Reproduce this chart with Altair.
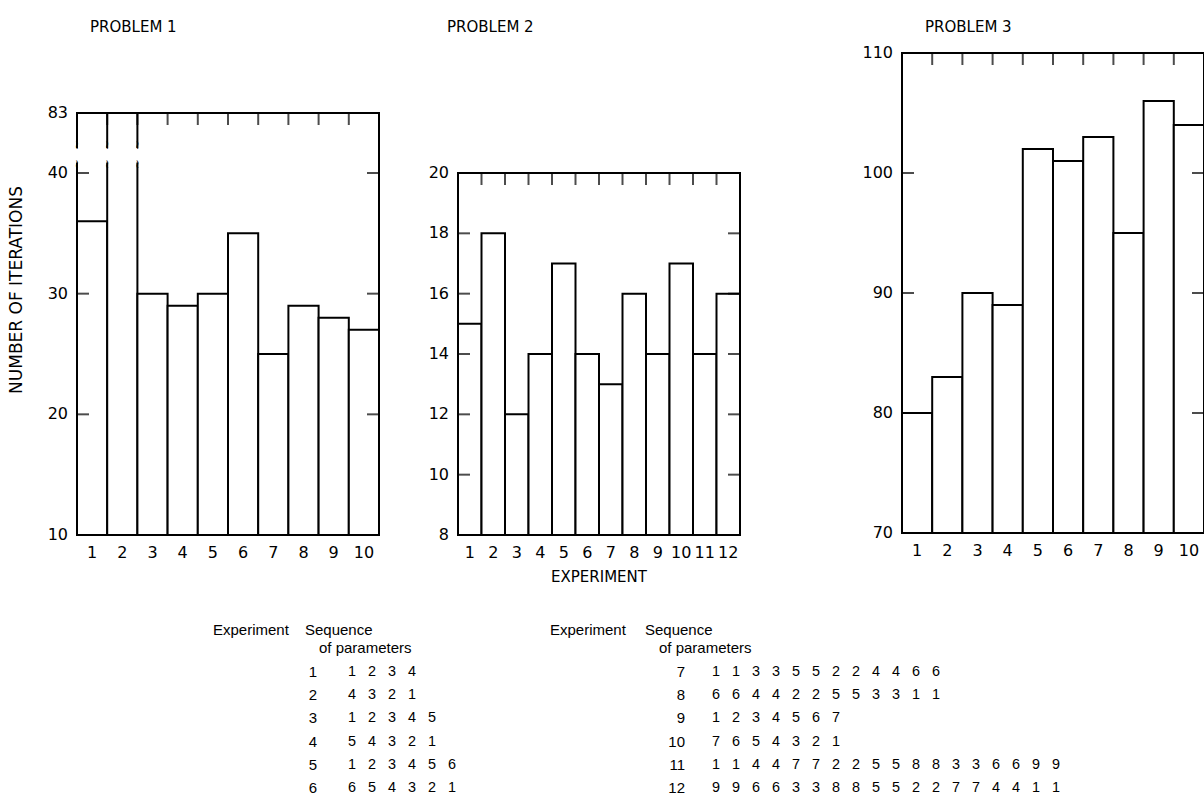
import altair as alt
import pandas as pd

FONT = "DejaVu Sans"
TABLE_FONT = "Liberation Sans"
NBSP = "\u00a0"

# Iterations needed in each experiment, one list per problem
p1_exp = list(range(1, 11))
p1_iter = [36, 83, 30, 29, 30, 35, 25, 29, 28, 27]
p2_exp = list(range(1, 13))
p2_iter = [15, 18, 12, 14, 17, 14, 13, 16, 14, 17, 14, 16]
p3_exp = list(range(1, 11))
p3_iter = [80, 83, 90, 89, 102, 101, 103, 95, 106, 104]

# Vertical tick labels of each panel
p1_yticks = [10, 20, 30, 40, 83]
p2_yticks = [8, 10, 12, 14, 16, 18, 20]
p3_yticks = [70, 80, 90, 100, 110]

# Parameter sequences used in the experiments
table_exp = list(range(1, 13))
table_seq = [
    [1, 2, 3, 4],
    [4, 3, 2, 1],
    [1, 2, 3, 4, 5],
    [5, 4, 3, 2, 1],
    [1, 2, 3, 4, 5, 6],
    [6, 5, 4, 3, 2, 1],
    [1, 1, 3, 3, 5, 5, 2, 2, 4, 4, 6, 6],
    [6, 6, 4, 4, 2, 2, 5, 5, 3, 3, 1, 1],
    [1, 2, 3, 4, 5, 6, 7],
    [7, 6, 5, 4, 3, 2, 1],
    [1, 1, 4, 4, 7, 7, 2, 2, 5, 5, 8, 8, 3, 3, 6, 6, 9, 9],
    [9, 9, 6, 6, 3, 3, 8, 8, 5, 5, 2, 2, 7, 7, 4, 4, 1, 1],
]

PX_X = alt.Scale(domain=[0, 1204], range=[0, 1204])
PX_Y = alt.Scale(domain=[0, 803], range=[0, 803])


def panel(exps, iters, yticks, xrange, ydomain, yrange, inner_ticks, gap=None):
    n = len(exps)
    ymin, ymax = ydomain[0], ydomain[-1]
    xs = alt.Scale(domain=[0.5, n + 0.5], range=xrange, nice=False, zero=False)
    ys = alt.Scale(domain=ydomain, range=yrange, nice=False, zero=False)

    bars_df = pd.DataFrame({"exp": exps, "iters": iters})
    bars_df["x0"] = bars_df["exp"] - 0.5
    bars_df["x1"] = bars_df["exp"] + 0.5
    bars_df["base"] = ymin

    bars = alt.Chart(bars_df).mark_rect(
        fill="white", stroke="black", strokeWidth=2
    ).encode(
        x=alt.X("x0:Q", scale=xs, axis=None),
        x2="x1:Q",
        y=alt.Y("base:Q", scale=ys, axis=None),
        y2="iters:Q",
    )

    frame_df = pd.DataFrame({"x0": [0.5], "x1": [n + 0.5], "y0": [ymin], "y1": [ymax]})
    frame = alt.Chart(frame_df).mark_rect(
        fill="transparent", stroke="black", strokeWidth=2
    ).encode(
        x=alt.X("x0:Q", scale=xs, axis=None),
        x2="x1:Q",
        y=alt.Y("y0:Q", scale=ys, axis=None),
        y2="y1:Q",
    )

    top_df = pd.DataFrame({"b": [e + 0.5 for e in exps[:-1]], "top": ymax})
    top_ticks = alt.Chart(top_df).mark_tick(
        orient="vertical", size=12, thickness=2, yOffset=6, color="black"
    ).encode(
        x=alt.X("b:Q", scale=xs, axis=None),
        y=alt.Y("top:Q", scale=ys, axis=None),
    )

    side_df = pd.DataFrame({"v": inner_ticks, "left": 0.5, "right": n + 0.5})
    left_ticks = alt.Chart(side_df).mark_tick(
        orient="horizontal", size=12, thickness=2, xOffset=6, color="black"
    ).encode(
        x=alt.X("left:Q", scale=xs, axis=None),
        y=alt.Y("v:Q", scale=ys, axis=None),
    )
    right_ticks = alt.Chart(side_df).mark_tick(
        orient="horizontal", size=12, thickness=2, xOffset=-6, color="black"
    ).encode(
        x=alt.X("right:Q", scale=xs, axis=None),
        y=alt.Y("v:Q", scale=ys, axis=None),
    )

    ylab_df = pd.DataFrame({"v": yticks, "left": 0.5})
    ylabels = alt.Chart(ylab_df).mark_text(
        align="right", baseline="middle", dx=-9, font=FONT, fontSize=16, color="black"
    ).encode(
        x=alt.X("left:Q", scale=xs, axis=None),
        y=alt.Y("v:Q", scale=ys, axis=None),
        text="v:Q",
    )

    xlab_df = pd.DataFrame({"exp": exps, "base": ymin})
    xlabels = alt.Chart(xlab_df).mark_text(
        align="center", baseline="middle", dy=18, font=FONT, fontSize=16, color="black"
    ).encode(
        x=alt.X("exp:Q", scale=xs, axis=None),
        y=alt.Y("base:Q", scale=ys, axis=None),
        text="exp:Q",
    )

    layers = [bars, frame, top_ticks, left_ticks, right_ticks, ylabels, xlabels]

    if gap is not None:
        # axis break between the lower range and the top value
        g0, g1, nlines = gap
        gap_df = pd.DataFrame({"x0": [0.35], "x1": [nlines - 0.5 + 0.15], "y0": [g0], "y1": [g1]})
        cover = alt.Chart(gap_df).mark_rect(fill="white", strokeWidth=0).encode(
            x=alt.X("x0:Q", scale=xs, axis=None),
            x2="x1:Q",
            y=alt.Y("y0:Q", scale=ys, axis=None),
            y2="y1:Q",
        )
        hooks = []
        for k in range(nlines):
            hooks.append({"xb": 0.5 + k, "yb": g1, "base": "bottom"})
            hooks.append({"xb": 0.5 + k, "yb": g0, "base": "top"})
        hook_df = pd.DataFrame(hooks)
        upper = alt.Chart(hook_df[hook_df.base == "bottom"]).mark_text(
            text="≀", font="DejaVu Sans", fontSize=12, baseline="bottom", dy=4, color="black"
        ).encode(
            x=alt.X("xb:Q", scale=xs, axis=None),
            y=alt.Y("yb:Q", scale=ys, axis=None),
        )
        lower = alt.Chart(hook_df[hook_df.base == "top"]).mark_text(
            text="≀", font="DejaVu Sans", fontSize=12, baseline="top", dy=-4, color="black"
        ).encode(
            x=alt.X("xb:Q", scale=xs, axis=None),
            y=alt.Y("yb:Q", scale=ys, axis=None),
        )
        layers += [cover, upper, lower]

    return alt.layer(*layers)


panel1 = panel(p1_exp, p1_iter, p1_yticks, [77, 379], [10, 40, 83], [535, 173, 113],
               [20, 30, 40], gap=(47.5, 58.0, 3))
panel2 = panel(p2_exp, p2_iter, p2_yticks, [458, 740], [8, 20], [535, 173],
               [10, 12, 14, 16, 18])
panel3 = panel(p3_exp, p3_iter, p3_yticks, [902, 1204], [70, 110], [533, 53],
               [80, 90, 100])

# Panel titles and axis titles
lab_df = pd.DataFrame({
    "t": ["PROBLEM 1", "PROBLEM 2", "PROBLEM 3"],
    "px": [90, 447, 925],
})
titles = alt.Chart(lab_df).mark_text(
    align="left", baseline="middle", font=FONT, fontSize=15, color="black"
).encode(
    x=alt.X("px:Q", scale=PX_X, axis=None),
    y=alt.value(27),
    text="t:N",
)

ytitle = alt.Chart(pd.DataFrame({"t": ["NUMBER OF ITERATIONS"]})).mark_text(
    angle=270, align="center", baseline="middle", font=FONT, fontSize=17, color="black"
).encode(x=alt.value(17), y=alt.value(290), text="t:N")

xtitle = alt.Chart(pd.DataFrame({"t": ["EXPERIMENT"]})).mark_text(
    align="center", baseline="middle", font=FONT, fontSize=15, color="black"
).encode(x=alt.value(599), y=alt.value(577), text="t:N")

# Table of parameter sequences
head_rows = []
for bx, sx in ((213, 305), (550, 645)):
    head_rows += [
        {"t": "Experiment", "hx": bx, "hy": 630},
        {"t": "Sequence", "hx": sx, "hy": 630},
        {"t": "of parameters", "hx": sx + 14, "hy": 648},
    ]
heads = alt.Chart(pd.DataFrame(head_rows)).mark_text(
    align="left", baseline="middle", font=TABLE_FONT, fontSize=15, color="black"
).encode(
    x=alt.X("hx:Q", scale=PX_X, axis=None),
    y=alt.Y("hy:Q", scale=PX_Y, axis=None),
    text="t:N",
)

tab_df = pd.DataFrame({
    "exp": table_exp,
    "seq": [(NBSP * 3).join(str(d) for d in s) for s in table_seq],
    "row": [(e - 1) % 6 for e in table_exp],
    "block": [0 if e <= 6 else 1 for e in table_exp],
})
row_scale = alt.Scale(domain=[0, 5], range=[672, 788])
left_df = tab_df[tab_df.block == 0]
right_df = tab_df[tab_df.block == 1]
num_left = alt.Chart(left_df).mark_text(
    align="center", baseline="middle", font=TABLE_FONT, fontSize=15, color="black"
).encode(x=alt.value(313), y=alt.Y("row:Q", scale=row_scale, axis=None), text="exp:Q")
seq_left = alt.Chart(left_df).mark_text(
    align="left", baseline="middle", font=TABLE_FONT, fontSize=14.4, color="black"
).encode(x=alt.value(348), y=alt.Y("row:Q", scale=row_scale, axis=None), text="seq:N")
num_right = alt.Chart(right_df).mark_text(
    align="right", baseline="middle", font=TABLE_FONT, fontSize=15, color="black"
).encode(x=alt.value(685), y=alt.Y("row:Q", scale=row_scale, axis=None), text="exp:Q")
seq_right = alt.Chart(right_df).mark_text(
    align="left", baseline="middle", font=TABLE_FONT, fontSize=14.4, color="black"
).encode(x=alt.value(712), y=alt.Y("row:Q", scale=row_scale, axis=None), text="seq:N")
table = alt.layer(num_left, seq_left, num_right, seq_right)

chart = alt.layer(
    panel1, panel2, panel3, titles, ytitle, xtitle, heads, table
).resolve_scale(
    x="independent", y="independent"
).properties(
    width=1204, height=803, autosize=alt.AutoSizeParams(type="none"), padding=0,
    background="white",
).configure_view(stroke=None)

chart.save("out.html", embed_options={"renderer": "svg", "actions": False})
